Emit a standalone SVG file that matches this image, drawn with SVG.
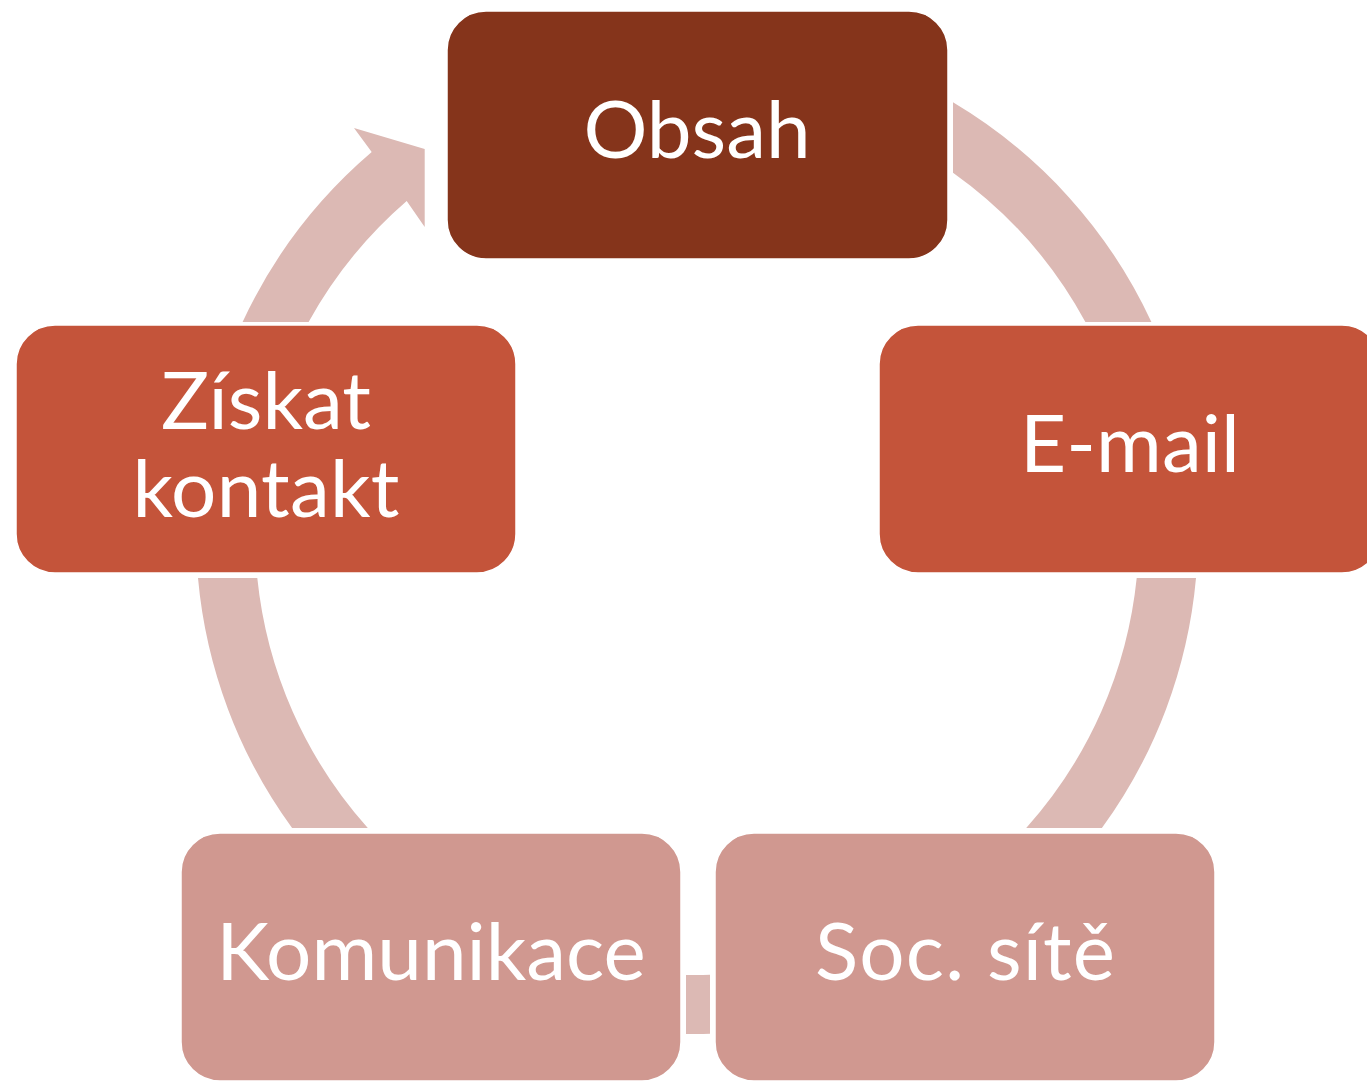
<svg xmlns="http://www.w3.org/2000/svg" width="1367" height="1081" viewBox="0 0 1367 1081">
<style>
.arc{fill:#DCB9B4;stroke:none}
.node{stroke:#FFFFFF;stroke-width:1.5}
.dark{fill:#85341B}
.mid{fill:#C4543A}
.light{fill:#D09890}
.lbl{font-family:Lato,"Open Sans","Liberation Sans",sans-serif;font-size:80px;fill:#FFFFFF;text-anchor:middle}
</style>
<rect x="0" y="0" width="1367" height="1081" fill="#FFFFFF"/>
<g id="connectors">
<path class="arc" d="M 953 102.3 A 501 501 0 0 1 1151.4 322 L 1085.4 322 A 442 442 0 0 0 953 172.7 Z"/>
<path class="arc" d="M 1196 578 A 501 501 0 0 1 1101.9 828 L 1026.2 828 A 442 442 0 0 0 1136.7 578 Z"/>
<path class="arc" d="M 710 974.8 L 710 1033.8 A 501 501 0 0 1 686 1033.9 L 686 974.9 A 442 442 0 0 0 710 974.8 Z"/>
<path class="arc" d="M 292.1 828 A 501 501 0 0 1 198 578 L 257.3 578 A 442 442 0 0 0 367.8 828 Z"/>
<path class="arc" d="M 242.6 322 A 501 501 0 0 1 371.7 152 L 354 128 L 424.7 149 L 424.7 227 L 406.7 201 A 442 442 0 0 0 308.6 322 Z"/>
</g>
<g id="node-obsah">
<rect class="node dark" x="447" y="11" width="501" height="248" rx="39" ry="39"/>
<text class="lbl" x="697" y="158">Obsah</text>
</g>
<g id="node-email">
<rect class="node mid" x="879" y="325" width="502" height="248" rx="39" ry="39"/>
<text class="lbl" x="1130" y="472" textLength="220">E-mail</text>
</g>
<g id="node-soc">
<rect class="node light" x="715" y="833" width="500" height="248" rx="39" ry="39"/>
<text class="lbl" x="965" y="980" textLength="300">Soc. sítě</text>
</g>
<g id="node-komunikace">
<rect class="node light" x="181" y="833" width="500" height="248" rx="39" ry="39"/>
<text class="lbl" x="431" y="980">Komunikace</text>
</g>
<g id="node-ziskat">
<rect class="node mid" x="16" y="325" width="500" height="248" rx="39" ry="39"/>
<text class="lbl" x="266" y="429">Získat</text>
<text class="lbl" x="266" y="517" textLength="267">kontakt</text>
</g>
</svg>
